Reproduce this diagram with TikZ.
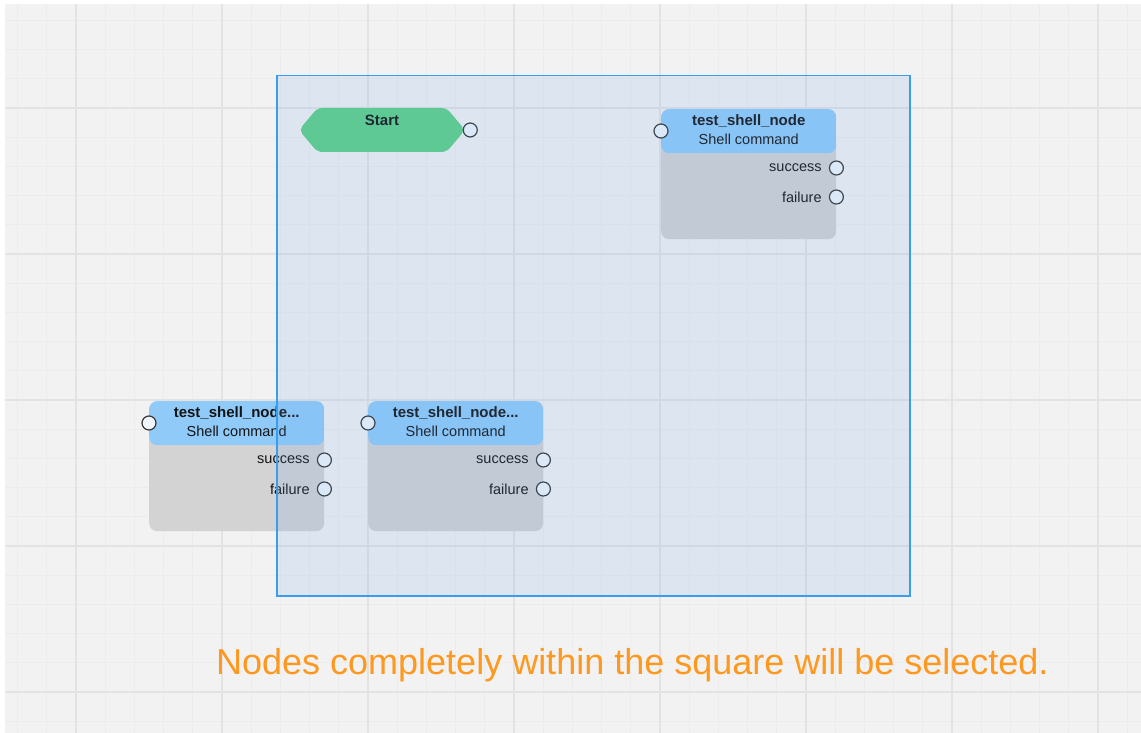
\documentclass[tikz,border=0pt]{standalone}
\usepackage{fontspec}
\setmainfont{Liberation Sans}
\usetikzlibrary{positioning,shapes.symbols}

\definecolor{gridbg}{RGB}{242,242,242}
\definecolor{gridminor}{RGB}{236,236,236}
\definecolor{gridmajor}{RGB}{227,227,227}
\definecolor{bodygray}{RGB}{211,211,211}
\definecolor{hdrblue}{RGB}{144,202,249}
\definecolor{startgreen}{RGB}{93,208,134}
\definecolor{portfill}{RGB}{240,245,251}
\definecolor{portline}{RGB}{55,55,55}
\definecolor{txtcol}{RGB}{20,20,20}
\definecolor{selblue}{RGB}{102,162,229}
\definecolor{selline}{RGB}{58,156,236}
\definecolor{msgorange}{RGB}{255,152,31}

\begin{document}
\begin{tikzpicture}[x=1pt,y=-1pt,
    minor/.style={draw=gridminor, line width=1pt},
    major/.style={draw=gridmajor, line width=2pt},
    box/.style={fill=bodygray, rounded corners=8pt, minimum width=175pt,
      minimum height=130pt, anchor=north west, inner sep=0pt,
      path picture={\fill[hdrblue] (path picture bounding box.north west)
        rectangle ([yshift=-44pt]path picture bounding box.north east);}},
    start/.style={shape=signal, signal to=west and east, signal pointer angle=100,
      fill=startgreen, rounded corners=5pt, inner sep=0pt},
    port/.style={circle, draw=portline, fill=portfill, line width=1.2pt,
      minimum size=14pt, inner sep=0pt},
    txt/.style={font=\fontsize{14.5}{17}\selectfont, inner sep=0pt, text=txtcol},
    ttl/.style={font=\fontsize{15}{18}\selectfont\bfseries, inner sep=0pt, text=txtcol},
    selbox/.style={anchor=north west, minimum width=633pt, minimum height=520pt,
      inner sep=0pt, fill=selblue, fill opacity=.15, draw=selline, line width=1.5pt},
  ]
    \useasboundingbox (0,0) rectangle (1141,733);
    \fill[white] (0,0) rectangle (1141,733);
    \fill[gridbg] (5,4) rectangle (1141,733);

    \begin{scope}
        \clip (5,4) rectangle (1141,733);
        \foreach \k in {-2,...,36}
            \draw[minor] ({76+\k*29.2},4) -- ({76+\k*29.2},733);
        \foreach \k in {-3,...,21}
            \draw[minor] (5,{108+\k*29.2}) -- (1141,{108+\k*29.2});
        \foreach \k in {0,...,7}
            \draw[major] ({76+\k*146},4) -- ({76+\k*146},733);
        \foreach \k in {0,...,4}
            \draw[major] (5,{108+\k*146}) -- (1141,{108+\k*146});
    \end{scope}

    \node[start, minimum width=166pt, minimum height=44pt] (s) at (382,130) {};
    \node[ttl] (s-t) at ([yshift=-13pt]s.north) {Start};
    \node[port] (s-out) at ([xshift=5pt]s.east) {};

    \foreach \n/\x/\y/\t in {a/661/109/{test\_shell\_node},
                             b/149/401/{test\_shell\_node...},
                             c/368/401/{test\_shell\_node...}} {
        \node[box] (\n) at (\x,\y) {};
        \node[ttl] (\n-t) at ([yshift=-12pt]\n.north) {\t};
        \node[txt] (\n-d) at ([yshift=-30pt]\n.north) {Shell command};
        \node[port] (\n-in) at ([yshift=-22pt]\n.north west) {};
        \node[port] (\n-ok) at ([yshift=-59pt]\n.north east) {};
        \node[port] (\n-no) at ([yshift=-88pt]\n.north east) {};
        \node[txt, left=7pt of \n-ok] (\n-okl) {success};
        \node[txt, left=7pt of \n-no] (\n-nol) {failure};
    }

    \node[selbox] (sq) at (276,75) {};

    \node[anchor=base west, inner sep=0pt, text=msgorange,
      font=\fontsize{36}{43}\selectfont] (msg) at (216,674)
      {Nodes completely within the square will be selected.};
\end{tikzpicture}
\end{document}
